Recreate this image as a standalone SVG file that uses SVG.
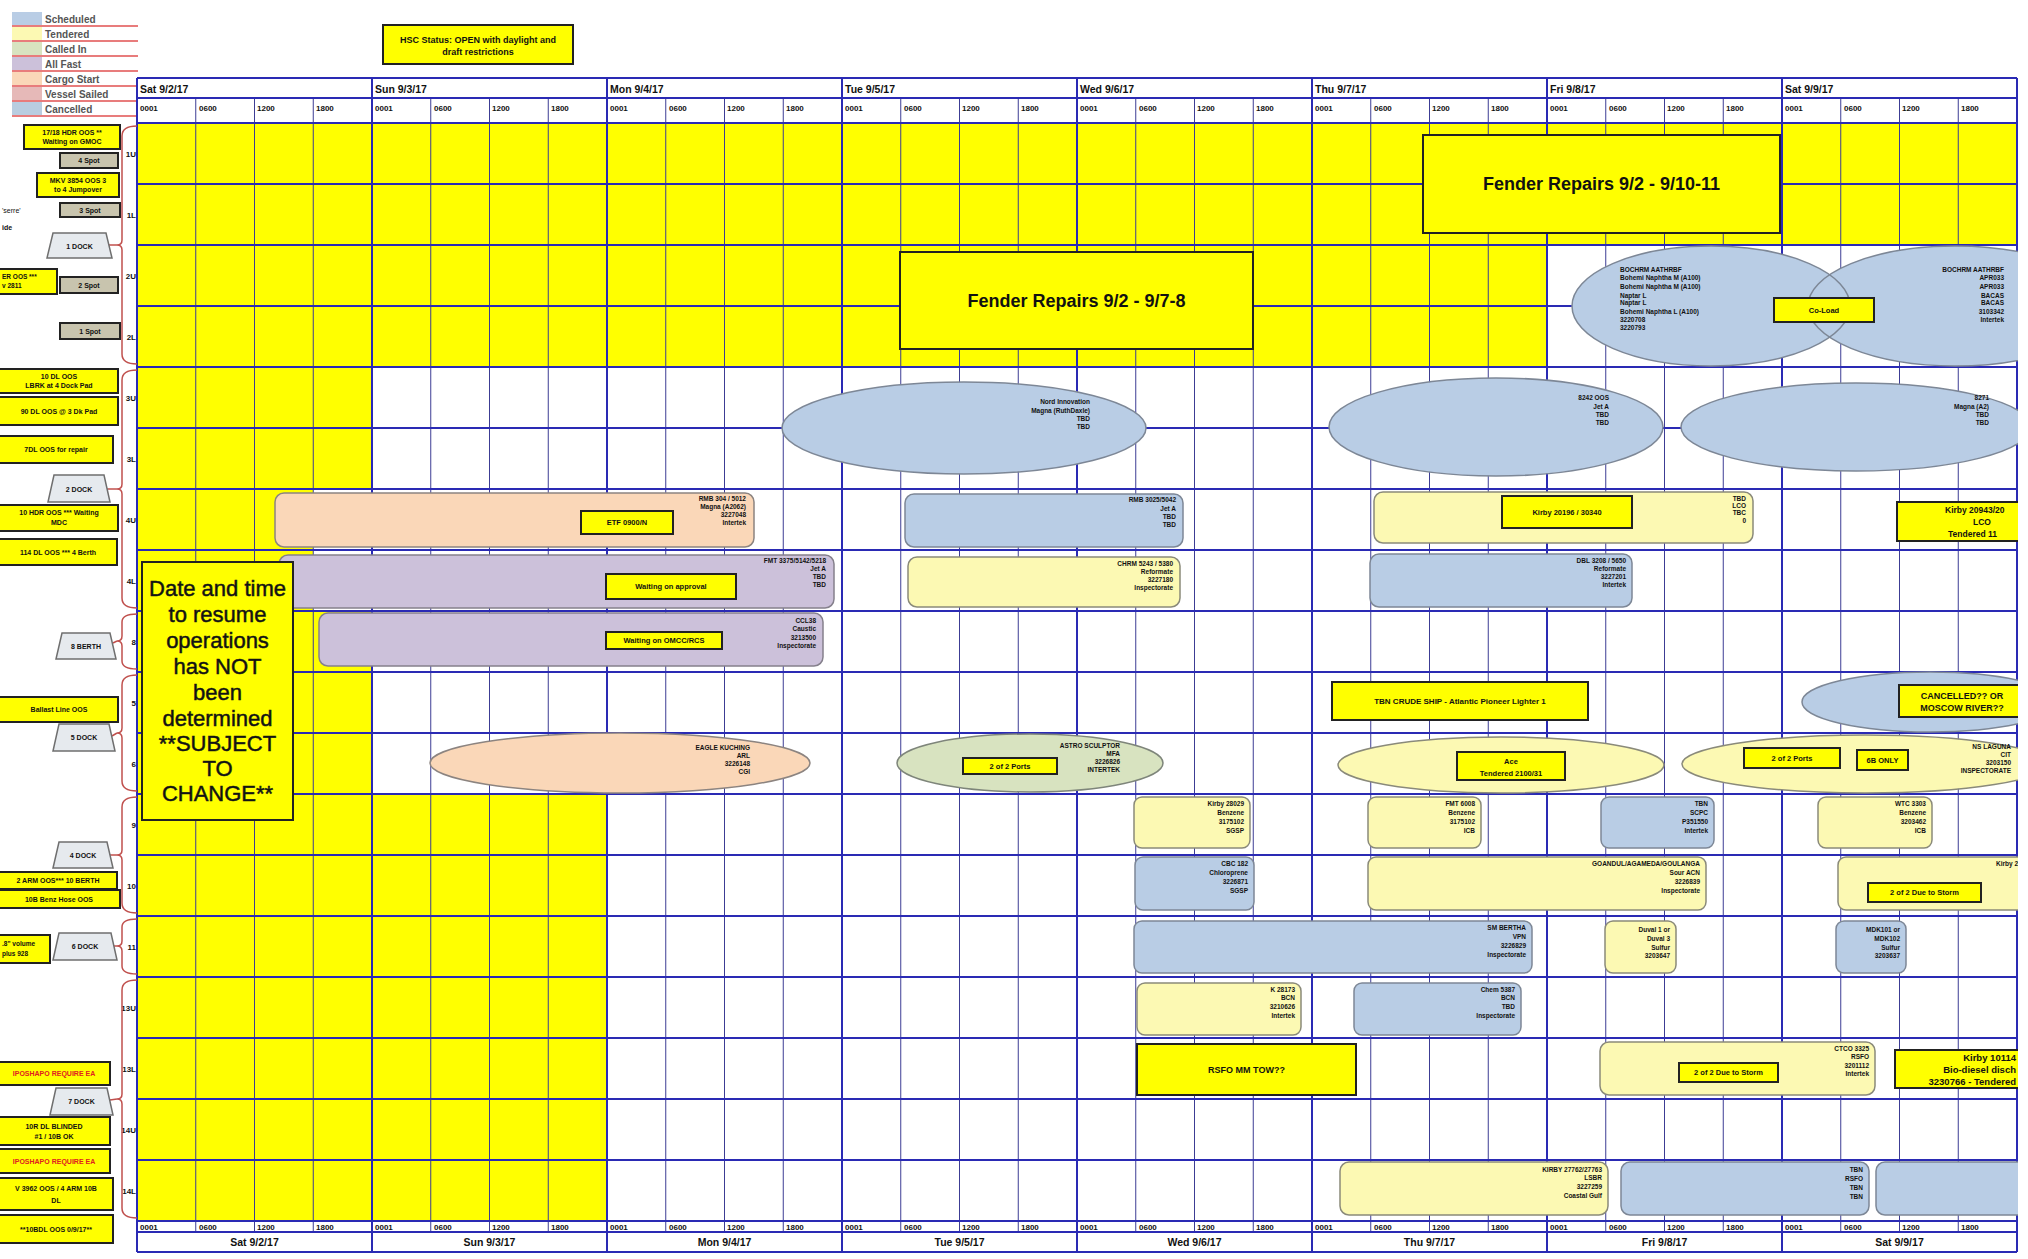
<svg xmlns="http://www.w3.org/2000/svg" width="2028" height="1259" viewBox="0 0 2028 1259">
<style>
text{font-family:"Liberation Sans",Arial,sans-serif;fill:#111}
.b{font-weight:bold}
.sm{font-size:6.5px;font-weight:bold;text-anchor:end}
.sl{font-size:6.5px;font-weight:bold}
.c{text-anchor:middle}
.e{text-anchor:end}
.yb{fill:#ffff00;stroke:#222;stroke-width:2}
.sch{fill:#b9cde5;stroke:#7d8796;stroke-width:1.5}
.ten{fill:#fcf9b3;stroke:#8a8a7a;stroke-width:1.5}
.pur{fill:#ccc1da;stroke:#85808c;stroke-width:1.5}
.pea{fill:#fad7b8;stroke:#8c8480;stroke-width:1.5}
.grn{fill:#d8e3c0;stroke:#7e857a;stroke-width:1.5}
.day{stroke:#2a2ab4;stroke-width:2;fill:none}
.sub{stroke:#3c3c94;stroke-width:1;fill:none}
.brk{fill:none;stroke:#c0504d;stroke-width:1.5}
.trap{fill:#e6eaee;stroke:#6f6f6f;stroke-width:1.5}
.spot{fill:#c8c4ae;stroke:#222;stroke-width:2}
.ib{font-size:7.5px;font-weight:bold;text-anchor:middle}
.nt{font-size:7px;font-weight:bold;text-anchor:middle}
.hd{font-size:10.5px;font-weight:bold}
.tm{font-size:8px;font-weight:bold}
.rl{font-size:8px;font-weight:bold;text-anchor:end}
.lg{font-size:10px;font-weight:bold;fill:#555}
.red{fill:#e02020}
</style>
<defs>
<clipPath id="pg"><rect x="0" y="0" width="2018" height="1259"/></clipPath>
</defs>
<rect width="2028" height="1259" fill="#ffffff"/>

<g id="legend">
<rect x="12" y="12" width="30" height="13" fill="#b9cde5"/>
<rect x="12" y="27" width="30" height="13" fill="#fcf9b3"/>
<rect x="12" y="42" width="30" height="13" fill="#d8e3c0"/>
<rect x="12" y="57" width="30" height="13" fill="#ccc1da"/>
<rect x="12" y="72" width="30" height="13" fill="#fad7b8"/>
<rect x="12" y="87" width="30" height="13" fill="#e6b9b8"/>
<rect x="12" y="102" width="30" height="13" fill="#b9cde0"/>
<g stroke="#e05050" stroke-width="1.5">
<line x1="12" y1="26" x2="138" y2="26"/><line x1="12" y1="41" x2="138" y2="41"/><line x1="12" y1="56" x2="138" y2="56"/><line x1="12" y1="71" x2="138" y2="71"/><line x1="12" y1="86" x2="138" y2="86"/><line x1="12" y1="101" x2="138" y2="101"/><line x1="12" y1="116" x2="138" y2="116"/>
</g>
<text class="lg" x="45" y="23">Scheduled</text>
<text class="lg" x="45" y="38">Tendered</text>
<text class="lg" x="45" y="53">Called In</text>
<text class="lg" x="45" y="68">All Fast</text>
<text class="lg" x="45" y="83">Cargo Start</text>
<text class="lg" x="45" y="98">Vessel Sailed</text>
<text class="lg" x="45" y="113">Cancelled</text>
</g>

<g id="hsc-status">
<rect class="yb" x="383" y="25" width="190" height="39"/>
<text class="b c" font-size="9" x="478" y="43">HSC Status: OPEN with daylight and</text>
<text class="b c" font-size="9" x="478" y="55">draft restrictions</text>
</g>

<g id="grid">
<rect x="137" y="123" width="1880" height="122" fill="#ffff00"/>
<rect x="137" y="245" width="1410" height="122" fill="#ffff00"/>
<rect x="137" y="367" width="235" height="122" fill="#ffff00"/>
<rect x="137" y="489" width="176" height="122" fill="#ffff00"/>
<rect x="137" y="611" width="235" height="183" fill="#ffff00"/>
<rect x="137" y="794" width="470" height="427" fill="#ffff00"/>
<path class="sub" d="M195.75 98V1232M254.5 98V1232M313.25 98V1232M430.75 98V1232M489.5 98V1232M548.25 98V1232M665.75 98V1232M724.5 98V1232M783.25 98V1232M900.75 98V1232M959.5 98V1232M1018.25 98V1232M1135.75 98V1232M1194.5 98V1232M1253.25 98V1232M1370.75 98V1232M1429.5 98V1232M1488.25 98V1232M1605.75 98V1232M1664.5 98V1232M1723.25 98V1232M1840.75 98V1232M1899.5 98V1232M1958.25 98V1232"/>
<path class="day" d="M137 78V1252M372 78V1252M607 78V1252M842 78V1252M1077 78V1252M1312 78V1252M1547 78V1252M1782 78V1252M2017 78V1252"/>
<path class="day" d="M137 78H2017M137 98H2017M137 123H2017M137 184H2017M137 245H2017M137 306H2017M137 367H2017M137 428H2017M137 489H2017M137 550H2017M137 611H2017M137 672H2017M137 733H2017M137 794H2017M137 855H2017M137 916H2017M137 977H2017M137 1038H2017M137 1099H2017M137 1160H2017M137 1221H2017M137 1232H2017M137 1252H2017"/>
<g class="hd">
<text x="140" y="93">Sat 9/2/17</text><text x="375" y="93">Sun 9/3/17</text><text x="610" y="93">Mon 9/4/17</text><text x="845" y="93">Tue 9/5/17</text><text x="1080" y="93">Wed 9/6/17</text><text x="1315" y="93">Thu 9/7/17</text><text x="1550" y="93">Fri 9/8/17</text><text x="1785" y="93">Sat 9/9/17</text>
</g>
<g class="hd c">
<text x="254.5" y="1246">Sat 9/2/17</text><text x="489.5" y="1246">Sun 9/3/17</text><text x="724.5" y="1246">Mon 9/4/17</text><text x="959.5" y="1246">Tue 9/5/17</text><text x="1194.5" y="1246">Wed 9/6/17</text><text x="1429.5" y="1246">Thu 9/7/17</text><text x="1664.5" y="1246">Fri 9/8/17</text><text x="1899.5" y="1246">Sat 9/9/17</text>
</g>
<g class="tm">
<text x="140" y="111">0001</text><text x="199" y="111">0600</text><text x="257" y="111">1200</text><text x="316" y="111">1800</text>
<text x="375" y="111">0001</text><text x="434" y="111">0600</text><text x="492" y="111">1200</text><text x="551" y="111">1800</text>
<text x="610" y="111">0001</text><text x="669" y="111">0600</text><text x="727" y="111">1200</text><text x="786" y="111">1800</text>
<text x="845" y="111">0001</text><text x="904" y="111">0600</text><text x="962" y="111">1200</text><text x="1021" y="111">1800</text>
<text x="1080" y="111">0001</text><text x="1139" y="111">0600</text><text x="1197" y="111">1200</text><text x="1256" y="111">1800</text>
<text x="1315" y="111">0001</text><text x="1374" y="111">0600</text><text x="1432" y="111">1200</text><text x="1491" y="111">1800</text>
<text x="1550" y="111">0001</text><text x="1609" y="111">0600</text><text x="1667" y="111">1200</text><text x="1726" y="111">1800</text>
<text x="1785" y="111">0001</text><text x="1844" y="111">0600</text><text x="1902" y="111">1200</text><text x="1961" y="111">1800</text>
</g>
<g class="tm">
<text x="140" y="1230">0001</text><text x="199" y="1230">0600</text><text x="257" y="1230">1200</text><text x="316" y="1230">1800</text>
<text x="375" y="1230">0001</text><text x="434" y="1230">0600</text><text x="492" y="1230">1200</text><text x="551" y="1230">1800</text>
<text x="610" y="1230">0001</text><text x="669" y="1230">0600</text><text x="727" y="1230">1200</text><text x="786" y="1230">1800</text>
<text x="845" y="1230">0001</text><text x="904" y="1230">0600</text><text x="962" y="1230">1200</text><text x="1021" y="1230">1800</text>
<text x="1080" y="1230">0001</text><text x="1139" y="1230">0600</text><text x="1197" y="1230">1200</text><text x="1256" y="1230">1800</text>
<text x="1315" y="1230">0001</text><text x="1374" y="1230">0600</text><text x="1432" y="1230">1200</text><text x="1491" y="1230">1800</text>
<text x="1550" y="1230">0001</text><text x="1609" y="1230">0600</text><text x="1667" y="1230">1200</text><text x="1726" y="1230">1800</text>
<text x="1785" y="1230">0001</text><text x="1844" y="1230">0600</text><text x="1902" y="1230">1200</text><text x="1961" y="1230">1800</text>
</g>
<g class="rl">
<text x="136" y="157">1U</text><text x="136" y="218">1L</text><text x="136" y="279">2U</text><text x="136" y="340">2L</text><text x="136" y="401">3U</text><text x="136" y="462">3L</text><text x="136" y="523">4U</text><text x="136" y="584">4L</text><text x="136" y="645">8</text><text x="136" y="706">5</text><text x="136" y="767">6</text><text x="136" y="828">9</text><text x="136" y="889">10</text><text x="136" y="950">11</text><text x="136" y="1011">13U</text><text x="136" y="1072">13L</text><text x="136" y="1133">14U</text><text x="136" y="1194">14L</text>
</g>
</g>

<g id="connectors">
<path class="brk" d="M137 126Q122 126 122 136V240Q122 245 117 245Q122 245 122 250V354Q122 364 137 364"/>
<path class="brk" d="M137 370Q122 370 122 380V484Q122 489 117 489Q122 489 122 494V598Q122 608 137 608"/>
<path class="brk" d="M137 614Q122 614 122 622V636Q122 641 117 641Q122 641 122 646V661Q122 669 137 669"/>
<path class="brk" d="M137 675Q122 675 122 685V728Q122 733 117 733Q122 733 122 738V781Q122 791 137 791"/>
<path class="brk" d="M137 797Q122 797 122 807V850Q122 855 117 855Q122 855 122 860V903Q122 913 137 913"/>
<path class="brk" d="M137 919Q122 919 122 927V941Q122 946 117 946Q122 946 122 951V966Q122 974 137 974"/>
<path class="brk" d="M137 980Q122 980 122 990V1094Q122 1099 117 1099Q122 1099 122 1104V1208Q122 1218 137 1218"/>
<g stroke="#c0504d" stroke-width="1.5">
<line x1="109" y1="245" x2="117" y2="245"/>
<line x1="107" y1="489" x2="117" y2="489"/>
<line x1="113" y1="643" x2="117" y2="641"/>
<line x1="112" y1="736" x2="117" y2="733"/>
<line x1="110" y1="855" x2="117" y2="855"/>
<line x1="114" y1="946" x2="117" y2="946"/>
<line x1="110" y1="1100" x2="117" y2="1099"/>
</g>
</g>

<g id="dock-1"><polygon class="trap" points="53,233 106,233 112,258 47,258"/><text class="nt" x="79.5" y="249">1 DOCK</text></g>
<g id="dock-2"><polygon class="trap" points="54,475 104,475 110,502 48,502"/><text class="nt" x="79" y="492">2 DOCK</text></g>
<g id="berth-8"><polygon class="trap" points="62,633 110,633 116,659 56,659"/><text class="nt" x="86" y="649">8 BERTH</text></g>
<g id="dock-5"><polygon class="trap" points="59,724 109,724 115,751 53,751"/><text class="nt" x="84" y="740">5 DOCK</text></g>
<g id="dock-4"><polygon class="trap" points="59,842 107,842 113,868 53,868"/><text class="nt" x="83" y="858">4 DOCK</text></g>
<g id="dock-6"><polygon class="trap" points="59,933 111,933 117,960 53,960"/><text class="nt" x="85" y="949">6 DOCK</text></g>
<g id="dock-7"><polygon class="trap" points="56,1088 107,1088 113,1115 50,1115"/><text class="nt" x="81.5" y="1104">7 DOCK</text></g>

<g id="spot-4"><rect class="spot" x="60" y="153" width="58" height="15"/><text class="nt" x="89" y="163">4 Spot</text></g>
<g id="spot-3"><rect class="spot" x="60" y="203" width="60" height="14"/><text class="nt" x="90" y="213">3 Spot</text></g>
<g id="spot-2"><rect class="spot" x="60" y="277" width="58" height="16"/><text class="nt" x="89" y="288">2 Spot</text></g>
<g id="spot-1"><rect class="spot" x="60" y="323" width="60" height="16"/><text class="nt" x="90" y="334">1 Spot</text></g>

<g id="fragments">
<text x="2" y="213" font-size="7" fill="#999">'serre'</text>
<text x="2" y="230" font-size="7" class="b">ide</text>
</g>

<g id="notes">
<g id="n1"><rect class="yb" x="24" y="125" width="96" height="24"/><text class="nt" x="72" y="135">17/18 HDR OOS **</text><text class="nt" x="72" y="144">Waiting on GMOC</text></g>
<g id="n2"><rect class="yb" x="37" y="173" width="82" height="24"/><text class="nt" x="78" y="183">MKV 3854 OOS 3</text><text class="nt" x="78" y="192">to 4 Jumpover</text></g>
<g id="n3"><rect class="yb" x="-2" y="269" width="59" height="25"/><text class="sl" x="2" y="279">ER OOS ***</text><text class="sl" x="2" y="288">v 2811</text></g>
<g id="n4"><rect class="yb" x="-2" y="369" width="120" height="24"/><text class="nt" x="59" y="379">10 DL OOS</text><text class="nt" x="59" y="388">LBRK at 4 Dock Pad</text></g>
<g id="n5"><rect class="yb" x="-2" y="397" width="120" height="28"/><text class="nt" x="59" y="414">90 DL OOS @ 3 Dk Pad</text></g>
<g id="n6"><rect class="yb" x="-2" y="436" width="115" height="27"/><text class="nt" x="56" y="452">7DL OOS for repair</text></g>
<g id="n7"><rect class="yb" x="-2" y="505" width="120" height="26"/><text class="nt" x="59" y="515">10 HDR OOS *** Waiting</text><text class="nt" x="59" y="525">MDC</text></g>
<g id="n8"><rect class="yb" x="-2" y="539" width="119" height="26"/><text class="nt" x="58" y="555">114 DL OOS *** 4 Berth</text></g>
<g id="n9"><rect class="yb" x="-2" y="697" width="120" height="25"/><text class="nt" x="59" y="712">Ballast Line OOS</text></g>
<g id="n10"><rect class="yb" x="-2" y="872" width="119" height="17"/><text class="nt" x="58" y="883">2 ARM OOS*** 10 BERTH</text></g>
<g id="n11"><rect class="yb" x="-2" y="890" width="122" height="18"/><text class="nt" x="59" y="902" font-size="8">10B Benz Hose OOS</text></g>
<g id="n12"><rect class="yb" x="-2" y="935" width="52" height="28"/><text class="sl" x="2" y="946">.8" volume</text><text class="sl" x="2" y="956">plus 928</text></g>
<g id="n13"><rect class="yb" x="-2" y="1062" width="112" height="23"/><text class="nt red" x="54" y="1076">IPOSHAPO REQUIRE EA</text></g>
<g id="n14"><rect class="yb" x="-2" y="1117" width="112" height="28"/><text class="nt" x="54" y="1129">10R DL BLINDED</text><text class="nt" x="54" y="1139">#1 / 10B OK</text></g>
<g id="n15"><rect class="yb" x="-2" y="1149" width="112" height="24"/><text class="nt red" x="54" y="1164">IPOSHAPO REQUIRE EA</text></g>
<g id="n16"><rect class="yb" x="-2" y="1178" width="115" height="32"/><text class="nt" x="56" y="1191">V 3962 OOS / 4 ARM 10B</text><text class="nt" x="56" y="1203">DL</text></g>
<g id="n17"><rect class="yb" x="-2" y="1215" width="115" height="28"/><text class="nt" x="56" y="1232">**10BDL OOS 0/9/17**</text></g>
</g>

<g clip-path="url(#pg)">
<g id="fender-1"><rect class="yb" x="900" y="252" width="353" height="97"/><text class="b c" font-size="18" x="1076.5" y="307">Fender Repairs 9/2 - 9/7-8</text></g>
<g id="fender-2"><rect class="yb" x="1423" y="135" width="357" height="98"/><text class="b c" font-size="18" x="1601.5" y="190">Fender Repairs 9/2 - 9/10-11</text></g>

<g id="bochrm">
<ellipse cx="1711" cy="306" rx="139" ry="60" fill="#b9cde5"/>
<ellipse cx="1955" cy="306" rx="147" ry="60" fill="#b9cde5"/>
<ellipse cx="1711" cy="306" rx="139" ry="60" fill="none" stroke="#7d8796" stroke-width="1.5"/>
<ellipse cx="1955" cy="306" rx="147" ry="60" fill="none" stroke="#7d8796" stroke-width="1.5"/>
<g class="sl"><text x="1620" y="272">BOCHRM AATHRBF</text><text x="1620" y="280">Bohemi Naphtha M (A100)</text><text x="1620" y="289">Bohemi Naphtha M (A100)</text><text x="1620" y="298">Naptar L</text><text x="1620" y="305">Naptar L</text><text x="1620" y="314">Bohemi Naphtha L (A100)</text><text x="1620" y="322">3220708</text><text x="1620" y="330">3220793</text></g>
<g class="sm"><text x="2004" y="272">BOCHRM AATHRBF</text><text x="2004" y="280">APR033</text><text x="2004" y="289">APR033</text><text x="2004" y="298">BACAS</text><text x="2004" y="305">BACAS</text><text x="2004" y="314">3103342</text><text x="2004" y="322">Intertek</text></g>
<rect class="yb" x="1774" y="298" width="100" height="24"/><text class="ib" x="1824" y="313">Co-Load</text>
</g>

<g id="nord"><ellipse class="sch" cx="964" cy="428" rx="182" ry="46"/><g class="sm"><text x="1090" y="404">Nord Innovation</text><text x="1090" y="413">Magna (RuthDaxle)</text><text x="1090" y="421">TBD</text><text x="1090" y="429">TBD</text></g></g>
<g id="b8242"><ellipse class="sch" cx="1496" cy="427" rx="167" ry="49"/><g class="sm"><text x="1609" y="400">8242 OOS</text><text x="1609" y="409">Jet A</text><text x="1609" y="417">TBD</text><text x="1609" y="425">TBD</text></g></g>
<g id="b8271"><ellipse class="sch" cx="1856" cy="427" rx="175" ry="44"/><g class="sm"><text x="1989" y="400">8271</text><text x="1989" y="409">Magna (A2)</text><text x="1989" y="417">TBD</text><text x="1989" y="425">TBD</text></g></g>

<g id="rmb304"><rect class="pea" x="275" y="493" width="479" height="54" rx="9"/><g class="sm"><text x="746" y="501">RMB 304 / 5012</text><text x="746" y="509">Magna (A2062)</text><text x="746" y="517">3227048</text><text x="746" y="525">Intertek</text></g><rect class="yb" x="581" y="511" width="92" height="23"/><text class="ib" x="627" y="525">ETF 0900/N</text></g>
<g id="rmb3025"><rect class="sch" x="905" y="494" width="278" height="53" rx="9"/><g class="sm"><text x="1176" y="502">RMB 3025/5042</text><text x="1176" y="511">Jet A</text><text x="1176" y="519">TBD</text><text x="1176" y="527">TBD</text></g></g>
<g id="kirby20196"><rect class="ten" x="1374" y="492" width="379" height="51" rx="9"/><g class="sm"><text x="1746" y="501">TBD</text><text x="1746" y="508">LCO</text><text x="1746" y="515">TBC</text><text x="1746" y="523">0</text></g><rect class="yb" x="1502" y="496" width="130" height="32"/><text class="ib" x="1567" y="515">Kirby 20196 / 30340</text></g>
<g id="kirby20943"><rect class="yb" x="1897" y="502" width="170" height="39"/><text class="b" font-size="8.5" x="1945" y="513">Kirby 20943/20</text><text class="b c" font-size="8.5" x="1982" y="525">LCO</text><text class="b" font-size="8.5" x="1948" y="537">Tendered 11</text></g>

<g id="fmt3375"><rect class="pur" x="279" y="555" width="555" height="53" rx="9"/><g class="sm"><text x="826" y="563">FMT 3375/5142/5218</text><text x="826" y="571">Jet A</text><text x="826" y="579">TBD</text><text x="826" y="587">TBD</text></g><rect class="yb" x="606" y="574" width="130" height="25"/><text class="ib" x="671" y="589">Waiting on approval</text></g>
<g id="chrm5243"><rect class="ten" x="908" y="557" width="272" height="50" rx="9"/><g class="sm"><text x="1173" y="566">CHRM 5243 / 5380</text><text x="1173" y="574">Reformate</text><text x="1173" y="582">3227180</text><text x="1173" y="590">Inspectorate</text></g></g>
<g id="dbl3208"><rect class="sch" x="1370" y="554" width="262" height="53" rx="9"/><g class="sm"><text x="1626" y="563">DBL 3208 / 5650</text><text x="1626" y="571">Reformate</text><text x="1626" y="579">3227201</text><text x="1626" y="587">Intertek</text></g></g>

<g id="ccl38"><rect class="pur" x="319" y="613" width="504" height="53" rx="9"/><g class="sm"><text x="816" y="623">CCL38</text><text x="816" y="631">Caustic</text><text x="816" y="640">3213500</text><text x="816" y="648">Inspectorate</text></g><rect class="yb" x="606" y="632" width="116" height="17"/><text class="ib" x="664" y="643">Waiting on OMCC/RCS</text></g>

<g id="tbn-crude"><rect class="yb" x="1332" y="682" width="256" height="38"/><text class="b c" font-size="8" x="1460" y="704">TBN CRUDE SHIP - Atlantic Pioneer Lighter 1</text></g>
<g id="moscow"><ellipse class="sch" cx="1930" cy="702" rx="128" ry="30"/><rect class="yb" x="1899" y="685" width="131" height="32"/><text class="b c" font-size="9" x="1962" y="699">CANCELLED?? OR</text><text class="b c" font-size="9" x="1962" y="711">MOSCOW RIVER??</text></g>

<g id="eagle"><ellipse class="pea" cx="620" cy="763" rx="190" ry="30"/><g class="sm"><text x="750" y="750">EAGLE KUCHING</text><text x="750" y="758">ARL</text><text x="750" y="766">3226148</text><text x="750" y="774">CGI</text></g></g>
<g id="astro"><ellipse class="grn" cx="1030" cy="763" rx="133" ry="29"/><g class="sm"><text x="1120" y="748">ASTRO SCULPTOR</text><text x="1120" y="756">MFA</text><text x="1120" y="764">3226826</text><text x="1120" y="772">INTERTEK</text></g><rect class="yb" x="963" y="758" width="94" height="16"/><text class="ib" x="1010" y="769">2 of 2 Ports</text></g>
<g id="ace"><ellipse class="ten" cx="1501" cy="765" rx="163" ry="28"/><rect class="yb" x="1457" y="752" width="108" height="28"/><text class="ib" x="1511" y="764">Ace</text><text class="ib" x="1511" y="776">Tendered 2100/31</text></g>
<g id="laguna"><ellipse class="ten" cx="1865" cy="764" rx="183" ry="29"/><g class="sm"><text x="2011" y="749">NS LAGUNA</text><text x="2011" y="757">CIT</text><text x="2011" y="765">3203150</text><text x="2011" y="773">INSPECTORATE</text></g><rect class="yb" x="1744" y="748" width="96" height="20"/><text class="ib" x="1792" y="761">2 of 2 Ports</text><rect class="yb" x="1857" y="750" width="51" height="20"/><text class="ib" x="1882.5" y="763">6B ONLY</text></g>

<g id="kirby28029"><rect class="ten" x="1134" y="797" width="116" height="51" rx="8"/><g class="sm"><text x="1244" y="806">Kirby 28029</text><text x="1244" y="815">Benzene</text><text x="1244" y="824">3175102</text><text x="1244" y="833">SGSP</text></g></g>
<g id="fmt6008"><rect class="ten" x="1368" y="797" width="113" height="51" rx="8"/><g class="sm"><text x="1475" y="806">FMT 6008</text><text x="1475" y="815">Benzene</text><text x="1475" y="824">3175102</text><text x="1475" y="833">ICB</text></g></g>
<g id="tbn-scpc"><rect class="sch" x="1601" y="797" width="113" height="51" rx="8"/><g class="sm"><text x="1708" y="806">TBN</text><text x="1708" y="815">SCPC</text><text x="1708" y="824">P351550</text><text x="1708" y="833">Intertek</text></g></g>
<g id="wtc3303"><rect class="ten" x="1818" y="797" width="114" height="51" rx="8"/><g class="sm"><text x="1926" y="806">WTC 3303</text><text x="1926" y="815">Benzene</text><text x="1926" y="824">3203462</text><text x="1926" y="833">ICB</text></g></g>

<g id="cbc182"><rect class="sch" x="1135" y="857" width="119" height="53" rx="8"/><g class="sm"><text x="1248" y="866">CBC 182</text><text x="1248" y="875">Chloroprene</text><text x="1248" y="884">3226871</text><text x="1248" y="893">SGSP</text></g></g>
<g id="goandul"><rect class="ten" x="1368" y="857" width="338" height="53" rx="8"/><g class="sm"><text x="1700" y="866">GOANDUL/AGAMEDA/GOULANGA</text><text x="1700" y="875">Sour ACN</text><text x="1700" y="884">3226839</text><text x="1700" y="893">Inspectorate</text></g></g>
<g id="kirby28"><rect class="ten" x="1838" y="857" width="220" height="53" rx="8"/><text class="sl" x="1996" y="866">Kirby 28</text><rect class="yb" x="1868" y="883" width="113" height="19"/><text class="ib" x="1924.5" y="895">2 of 2 Due to Storm</text></g>

<g id="smbertha"><rect class="sch" x="1134" y="921" width="398" height="52" rx="8"/><g class="sm"><text x="1526" y="930">SM BERTHA</text><text x="1526" y="939">VPN</text><text x="1526" y="948">3226829</text><text x="1526" y="957">Inspectorate</text></g></g>
<g id="duval"><rect class="ten" x="1605" y="921" width="71" height="52" rx="8"/><g class="sm"><text x="1670" y="932">Duval 1 or</text><text x="1670" y="941">Duval 3</text><text x="1670" y="950">Sulfur</text><text x="1670" y="958">3203647</text></g></g>
<g id="mdk101"><rect class="sch" x="1836" y="921" width="70" height="52" rx="8"/><g class="sm"><text x="1900" y="932">MDK101 or</text><text x="1900" y="941">MDK102</text><text x="1900" y="950">Sulfur</text><text x="1900" y="958">3203637</text></g></g>

<g id="k28173"><rect class="ten" x="1137" y="983" width="164" height="52" rx="8"/><g class="sm"><text x="1295" y="992">K 28173</text><text x="1295" y="1000">BCN</text><text x="1295" y="1009">3210626</text><text x="1295" y="1018">Intertek</text></g></g>
<g id="chem5387"><rect class="sch" x="1354" y="983" width="167" height="52" rx="8"/><g class="sm"><text x="1515" y="992">Chem 5387</text><text x="1515" y="1000">BCN</text><text x="1515" y="1009">TBD</text><text x="1515" y="1018">Inspectorate</text></g></g>

<g id="rsfo-tow"><rect class="yb" x="1137" y="1044" width="219" height="51"/><text class="b c" font-size="9" x="1246.5" y="1073">RSFO MM TOW??</text></g>
<g id="ctco3325"><rect class="ten" x="1600" y="1042" width="275" height="53" rx="9"/><g class="sm"><text x="1869" y="1051">CTCO 3325</text><text x="1869" y="1059">RSFO</text><text x="1869" y="1068">3201112</text><text x="1869" y="1076">Intertek</text></g><rect class="yb" x="1679" y="1063" width="99" height="19"/><text class="ib" x="1728.5" y="1075">2 of 2 Due to Storm</text></g>
<g id="kirby10114"><rect class="yb" x="1895" y="1050" width="160" height="38"/><g class="b e" font-size="9.5"><text x="2016" y="1061">Kirby 10114</text><text x="2016" y="1073">Bio-diesel disch</text><text x="2016" y="1085">3230766 - Tendered</text></g></g>

<g id="kirby27762"><rect class="ten" x="1340" y="1162" width="268" height="53" rx="9"/><g class="sm"><text x="1602" y="1172">KIRBY 27762/27763</text><text x="1602" y="1180">LSBR</text><text x="1602" y="1189">3227259</text><text x="1602" y="1198">Coastal Gulf</text></g></g>
<g id="tbn-rsfo"><rect class="sch" x="1621" y="1162" width="248" height="53" rx="9"/><g class="sm"><text x="1863" y="1172">TBN</text><text x="1863" y="1181">RSFO</text><text x="1863" y="1190">TBN</text><text x="1863" y="1199">TBN</text></g></g>
<g id="sched-last"><rect class="sch" x="1876" y="1162" width="180" height="53" rx="9"/></g>
</g>

<g id="date-note">
<rect class="yb" x="142" y="562" width="151" height="258"/>
<g class="c" font-size="22" fill="#1a1a1a" stroke="#1a1a1a" stroke-width="0.5">
<text x="217.5" y="596">Date and time</text>
<text x="217.5" y="622">to resume</text>
<text x="217.5" y="648">operations</text>
<text x="217.5" y="674">has NOT</text>
<text x="217.5" y="700">been</text>
<text x="217.5" y="726">determined</text>
<text x="217.5" y="751">**SUBJECT</text>
<text x="217.5" y="776">TO</text>
<text x="217.5" y="801">CHANGE**</text>
</g>
</g>
</svg>
